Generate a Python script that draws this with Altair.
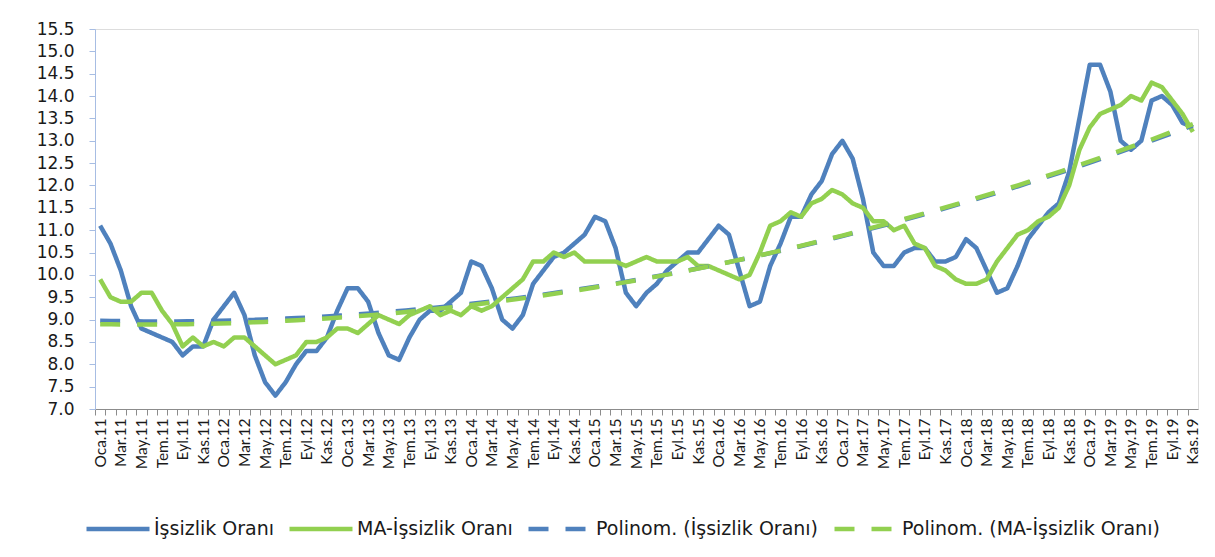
import json
import altair as alt
import pandas as pd

# ---- data ----
months = ["Oca", "Şub", "Mar", "Nis", "May", "Haz", "Tem", "Ağu", "Eyl", "Eki", "Kas", "Ara"]
years = ["11", "12", "13", "14", "15", "16", "17", "18", "19"]
labels = [f"{m}.{y}" for y in years for m in months][:107]

issizlik = [
    11.1, 10.7, 10.1, 9.3, 8.8, 8.7, 8.6, 8.5, 8.2, 8.4, 8.4, 9.0,
    9.3, 9.6, 9.1, 8.2, 7.6, 7.3, 7.6, 8.0, 8.3, 8.3, 8.6, 9.2,
    9.7, 9.7, 9.4, 8.7, 8.2, 8.1, 8.6, 9.0, 9.2, 9.2, 9.4, 9.6,
    10.3, 10.2, 9.7, 9.0, 8.8, 9.1, 9.8, 10.1, 10.4, 10.5, 10.7, 10.9,
    11.3, 11.2, 10.6, 9.6, 9.3, 9.6, 9.8, 10.1, 10.3, 10.5, 10.5, 10.8,
    11.1, 10.9, 10.1, 9.3, 9.4, 10.2, 10.7, 11.3, 11.3, 11.8, 12.1, 12.7,
    13.0, 12.6, 11.7, 10.5, 10.2, 10.2, 10.5, 10.6, 10.6, 10.3, 10.3, 10.4,
    10.8, 10.6, 10.1, 9.6, 9.7, 10.2, 10.8, 11.1, 11.4, 11.6, 12.3, 13.5,
    14.7, 14.7, 14.1, 13.0, 12.8, 13.0, 13.9, 14.0, 13.8, 13.4, 13.3,
]
ma_issizlik = [
    9.9, 9.5, 9.4, 9.4, 9.6, 9.6, 9.2, 8.9, 8.4, 8.6, 8.4, 8.5,
    8.4, 8.6, 8.6, 8.4, 8.2, 8.0, 8.1, 8.2, 8.5, 8.5, 8.6, 8.8,
    8.8, 8.7, 8.9, 9.1, 9.0, 8.9, 9.1, 9.2, 9.3, 9.1, 9.2, 9.1,
    9.3, 9.2, 9.3, 9.5, 9.7, 9.9, 10.3, 10.3, 10.5, 10.4, 10.5, 10.3,
    10.3, 10.3, 10.3, 10.2, 10.3, 10.4, 10.3, 10.3, 10.3, 10.4, 10.2, 10.2,
    10.1, 10.0, 9.9, 10.0, 10.5, 11.1, 11.2, 11.4, 11.3, 11.6, 11.7, 11.9,
    11.8, 11.6, 11.5, 11.2, 11.2, 11.0, 11.1, 10.7, 10.6, 10.2, 10.1, 9.9,
    9.8, 9.8, 9.9, 10.3, 10.6, 10.9, 11.0, 11.2, 11.3, 11.5, 12.0, 12.8,
    13.3, 13.6, 13.7, 13.8, 14.0, 13.9, 14.3, 14.2, 13.9, 13.6, 13.2,
]
series_names = ["İşsizlik Oranı", "MA-İşsizlik Oranı"]
trend_names = ["Polinom. (İşsizlik Oranı)", "Polinom. (MA-İşsizlik Oranı)"]
y_ticks = [7.0 + 0.5 * k for k in range(18)]

rows = []
for name, vals in zip(series_names, [issizlik, ma_issizlik]):
    for i, v in enumerate(vals):
        rows.append({"i": i, "series": name, "value": v})
df = pd.DataFrame(rows)

BLUE = "#4F81BD"
GREEN = "#92D050"
XFONT = "Lato"
WFONT = "DejaVu Sans"
n = len(labels)
step = 1103 / n

domain_all = series_names + trend_names
color_scale = alt.Scale(domain=domain_all, range=[BLUE, GREEN, BLUE, GREEN])
dash_scale = alt.Scale(domain=domain_all, range=[[1, 0], [1, 0], [20, 17], [20, 17]])

legend = alt.Legend(
    orient="none", legendX=-11, legendY=489, direction="horizontal", columns=4,
    title=None, symbolType="stroke", symbolSize=63 * 63, symbolStrokeWidth=4.5,
    clipHeight=22,
    labelFontSize=19, labelFont=WFONT, labelColor="#1a1a1a", columnPadding=13,
    labelOffset=2, padding=0, labelLimit=400,
)

label_js = json.dumps(labels, ensure_ascii=False)
x_axis = alt.Axis(
    values=list(range(0, n + 1)),
    labelExpr=f"(datum.value % 2 == 0 && datum.value < {n}) ? {label_js}[datum.value] : ''",
    labelAngle=270, labelAlign="right", labelBaseline="middle",
    labelFontSize=15.5, labelFont=XFONT, labelColor="#1a1a1a",
    labelOverlap=False, labelBound=False, labelFlush=False,
    tickOffset=-step / 2, labelOffset=step / 2,
    tickSize=6, tickColor="#8c8c8c", domainColor="#8c8c8c", tickWidth=1,
    labelPadding=3, grid=False, title=None,
)
y_axis = alt.Axis(
    values=y_ticks, format=".1f", labelFontSize=17, labelFont=WFONT, labelColor="#1a1a1a",
    tickSize=6, tickColor="#a7bde3", domainColor="#a7bde3", labelPadding=15,
    grid=False, title=None,
)

x_enc = alt.X("i:Q", scale=alt.Scale(domain=[-0.5, n - 0.5], nice=False, zero=False), axis=x_axis)
y_enc = alt.Y("value:Q", scale=alt.Scale(domain=[7, 15.5], nice=False, zero=False), axis=y_axis)

base = alt.Chart(df)

lines = base.mark_line(strokeWidth=4.5, strokeJoin="round").encode(
    x=x_enc, y=y_enc,
    color=alt.Color("series:N", scale=color_scale, legend=legend),
    strokeDash=alt.StrokeDash("series:N", scale=dash_scale, legend=legend),
    order="i:Q",
)

trends = base.transform_regression(
    "i", "value", groupby=["series"], method="poly", order=2
).transform_calculate(
    series="'Polinom. (' + datum.series + ')'"
).mark_line(strokeWidth=4.5, strokeCap="butt").encode(
    x=x_enc, y=y_enc,
    color=alt.Color("series:N", scale=color_scale, legend=legend),
    strokeDash=alt.StrokeDash("series:N", scale=dash_scale, legend=legend),
)

chart = alt.layer(lines, trends).properties(
    width=1103, height=380,
    autosize=alt.AutoSizeParams(type="none"),
    padding={"left": 87, "top": 21, "right": 5, "bottom": 130},
).configure_view(stroke="#eef2f9").configure(background="white")

chart.save("out.html", embed_options={"renderer": "svg", "actions": False})
